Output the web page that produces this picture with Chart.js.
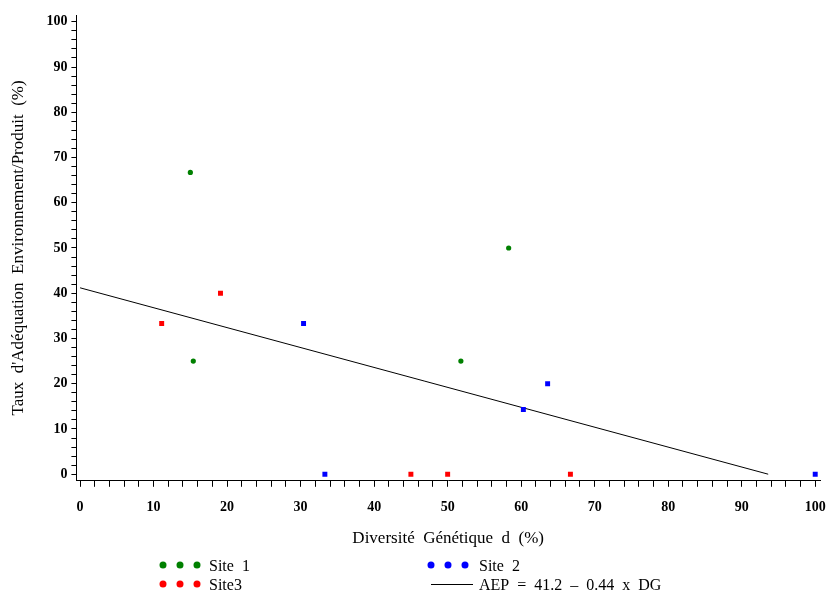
<!DOCTYPE html>
<html>
<head>
<meta charset="utf-8">
<script src="https://cdn.jsdelivr.net/npm/chart.js@4/dist/chart.umd.min.js"></script>
<style>
  html, body { margin: 0; padding: 0; background: #fff; }
</style>
</head>
<body>
<canvas id="chart" width="827" height="592"></canvas>
<script>
// values
const site1X = [15, 15.4, 51.8, 58.3];
const site1Y = [66.7, 25, 25, 50];
const site2X = [30.4, 33.3, 60.3, 63.6, 100];
const site2Y = [33.3, 0, 14.3, 20, 0];
const site3X = [11.1, 19.1, 45, 50, 66.7];
const site3Y = [33.3, 40, 0, 0, 0];
// fitted line AEP = 41.2 - 0.44 x DG, drawn until it reaches 0
const fitX = [0, 93.6];
const fitY = [41.2, 0];

const seriesNames = ["Site  1", "Site  2", "Site3", "AEP  =  41.2  \u2013  0.44  x  DG"];
const seriesColors = ["#008000", "#0000ff", "#ff0000", "#000000"];

const majorTicks = [0, 10, 20, 30, 40, 50, 60, 70, 80, 90, 100];
const MINOR_STEP = 2;

const SERIF = "'Liberation Serif', 'DejaVu Serif', serif";

function toPoints(xs, ys) {
  return xs.map((x, i) => ({ x: x, y: ys[i] }));
}

function allTicks() {
  const out = [];
  for (let v = majorTicks[0]; v <= majorTicks[majorTicks.length - 1]; v += MINOR_STEP) out.push({ value: v });
  return out;
}

// legend below the plot, two columns like the original
const legendPlugin = {
  id: "sasLegend",
  afterDraw(chart) {
    const ctx = chart.ctx;
    const colX = [163, 431];
    const rowY = [566, 585];
    const items = [
      { i: 0, col: 0, row: 0, kind: "dots" },
      { i: 2, col: 0, row: 1, kind: "dots" },
      { i: 1, col: 1, row: 0, kind: "dots" },
      { i: 3, col: 1, row: 1, kind: "line" }
    ];
    ctx.save();
    ctx.textBaseline = "middle";
    for (const it of items) {
      const x = colX[it.col];
      const y = rowY[it.row];
      ctx.fillStyle = seriesColors[it.i];
      ctx.strokeStyle = seriesColors[it.i];
      if (it.kind === "dots") {
        for (let k = 0; k < 3; k++) {
          ctx.beginPath();
          ctx.arc(x + k * 17, y - 1, 3.5, 0, Math.PI * 2);
          ctx.fill();
        }
      } else {
        ctx.lineWidth = 1;
        ctx.beginPath();
        ctx.moveTo(x, y - 0.5);
        ctx.lineTo(x + 42, y - 0.5);
        ctx.stroke();
      }
      ctx.fillStyle = "#000";
      ctx.font = "16px " + SERIF;
      ctx.fillText(seriesNames[it.i], x + (it.col === 0 ? 46 : 48), y + 1);
    }
    ctx.restore();
  }
};

const tickFont = { family: SERIF, size: 14, weight: "bold" };
const titleFont = { family: SERIF, size: 17 };

new Chart(document.getElementById("chart"), {
  type: "scatter",
  data: {
    datasets: [
      {
        label: seriesNames[0],
        data: toPoints(site1X, site1Y),
        backgroundColor: seriesColors[0],
        borderColor: seriesColors[0],
        pointStyle: "circle",
        pointRadius: 2.6,
        borderWidth: 0
      },
      {
        label: seriesNames[1],
        data: toPoints(site2X, site2Y),
        backgroundColor: seriesColors[1],
        borderColor: seriesColors[1],
        pointStyle: "rect",
        pointRadius: 3.5,
        borderWidth: 0
      },
      {
        label: seriesNames[2],
        data: toPoints(site3X, site3Y),
        backgroundColor: seriesColors[2],
        borderColor: seriesColors[2],
        pointStyle: "rect",
        pointRadius: 3.5,
        borderWidth: 0
      },
      {
        type: "line",
        label: seriesNames[3],
        data: toPoints(fitX, fitY),
        borderColor: seriesColors[3],
        borderWidth: 1,
        pointRadius: 0,
        fill: false
      }
    ]
  },
  options: {
    responsive: false,
    animation: false,
    layout: { padding: { left: 8, right: 7, top: 15, bottom: 43 } },
    plugins: {
      legend: { display: false },
      tooltip: { enabled: false }
    },
    scales: {
      x: {
        type: "linear",
        min: -0.5,
        max: 100.65,
        afterBuildTicks: (scale) => { scale.ticks = allTicks(); },
        // the "100" label may hang past the axis end, as in the original
        afterFit: (scale) => { scale.paddingRight = 0; scale.paddingLeft = 0; },
        border: { color: "#000", width: 1 },
        grid: { drawOnChartArea: false, color: "#000", tickLength: 6 },
        ticks: {
          autoSkip: false,
          maxRotation: 0,
          color: "#000",
          font: tickFont,
          padding: 12,
          callback: (v) => (majorTicks.includes(v) ? v : "")
        },
        title: {
          display: true,
          text: "Diversit\u00e9  G\u00e9n\u00e9tique  d  (%)",
          color: "#000",
          font: titleFont,
          padding: { top: 1, bottom: 0 }
        }
      },
      y: {
        type: "linear",
        min: -1.46,
        max: 101.5,
        afterBuildTicks: (scale) => { scale.ticks = allTicks(); },
        border: { color: "#000", width: 1 },
        grid: { drawOnChartArea: false, color: "#000", tickLength: 5 },
        ticks: {
          autoSkip: false,
          color: "#000",
          font: tickFont,
          padding: 4,
          callback: (v) => (majorTicks.includes(v) ? v : "")
        },
        title: {
          display: true,
          text: "Taux  d'Ad\u00e9quation  Environnement/Produit  (%)",
          color: "#000",
          font: titleFont,
          padding: { top: 0, bottom: 14 }
        }
      }
    }
  },
  plugins: [legendPlugin]
});
</script>
</body>
</html>
